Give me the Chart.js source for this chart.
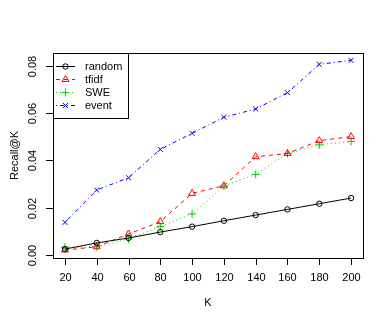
<!DOCTYPE html>
<html>
<head>
<meta charset="utf-8">
<script src="https://cdn.jsdelivr.net/npm/chart.js@4"></script>
<style>
  body { margin: 0; background: #fff; }
  canvas { display: block; }
</style>
</head>
<body>
<canvas id="chart" width="390" height="325"></canvas>
<script>
// values
const kValues = [20, 40, 60, 80, 100, 120, 140, 160, 180, 200];
const randomVals = [0.0025, 0.0051, 0.0072, 0.0097, 0.0120, 0.0145, 0.0169, 0.0193, 0.0217, 0.0241];
const tfidfVals  = [0.0021, 0.0035, 0.0089, 0.0141, 0.0261, 0.0293, 0.0416, 0.0430, 0.0484, 0.0501];
const sweVals    = [0.0033, 0.0034, 0.0068, 0.0120, 0.0174, 0.0292, 0.0341, 0.0430, 0.0466, 0.0481];
const eventVals  = [0.0138, 0.0275, 0.0327, 0.0447, 0.0515, 0.0583, 0.0618, 0.0687, 0.0807, 0.0824];
const xTicks = [20, 40, 60, 80, 100, 120, 140, 160, 180, 200];
const yTicks = [0, 0.02, 0.04, 0.06, 0.08];
const yTickLabels = ['0.00', '0.02', '0.04', '0.06', '0.08'];
const seriesNames = ['random', 'tfidf', 'SWE', 'event'];

const FONT = '11px "Liberation Sans", Arial, sans-serif';

const series = [
  { label: seriesNames[0], vals: randomVals, color: '#000000', dash: [],           style: 'circle',   r: 2.7 },
  { label: seriesNames[1], vals: tfidfVals,  color: '#FF0000', dash: [4, 4],       style: 'triangle', r: 4 },
  { label: seriesNames[2], vals: sweVals,    color: '#00CD00', dash: [1, 3],       style: 'cross',    r: 4 },
  { label: seriesNames[3], vals: eventVals,  color: '#0000FF', dash: [1, 3, 4, 3], style: 'crossRot', r: 3.5 }
];

const datasets = series.map(s => ({
  label: s.label,
  data: kValues.map((k, i) => ({ x: k, y: s.vals[i] })),
  borderColor: s.color,
  borderWidth: 1,
  borderDash: s.dash,
  pointStyle: s.style,
  pointRadius: s.r,
  pointBorderColor: s.color,
  pointBackgroundColor: 'rgba(0,0,0,0)',
  pointBorderWidth: 1,
  tension: 0,
  fill: false
}));

// R style frame, axes and legend
const rAxes = {
  id: 'rAxes',
  afterDraw(chart) {
    const ctx = chart.ctx;
    const a = chart.chartArea;
    const xs = chart.scales.x, ys = chart.scales.y;
    ctx.save();
    ctx.strokeStyle = '#000';
    ctx.lineWidth = 1;
    ctx.strokeRect(a.left + 0.5, a.top + 0.5, a.right - a.left, a.bottom - a.top);

    ctx.fillStyle = '#000';
    ctx.font = FONT;
    // x axis
    ctx.textAlign = 'center';
    ctx.textBaseline = 'middle';
    xTicks.forEach(t => {
      const px = Math.round(xs.getPixelForValue(t)) + 0.5;
      ctx.beginPath();
      ctx.moveTo(px, a.bottom);
      ctx.lineTo(px, a.bottom + 7);
      ctx.stroke();
      ctx.fillText(String(t), px, a.bottom + 20);
    });
    ctx.fillText('K', (a.left + a.right) / 2, a.bottom + 45);

    // y axis
    yTicks.forEach((t, i) => {
      const py = Math.round(ys.getPixelForValue(t)) + 0.5;
      ctx.beginPath();
      ctx.moveTo(a.left, py);
      ctx.lineTo(a.left - 7, py);
      ctx.stroke();
      ctx.save();
      ctx.translate(a.left - 20, py);
      ctx.rotate(-Math.PI / 2);
      ctx.fillText(yTickLabels[i], 0, 0);
      ctx.restore();
    });
    ctx.save();
    ctx.translate(15, (a.top + a.bottom) / 2);
    ctx.rotate(-Math.PI / 2);
    ctx.fillText('Recall@K', 0, 0);
    ctx.restore();

    // legend
    const lx = a.left, ly = a.top, lw = 75, lh = 65;
    ctx.fillStyle = '#fff';
    ctx.fillRect(lx, ly, lw, lh);
    ctx.strokeRect(lx + 0.5, ly + 0.5, lw, lh);
    series.forEach((s, i) => {
      const y = ly + 13 + i * 13 + 0.5;
      ctx.strokeStyle = s.color;
      ctx.setLineDash(s.dash);
      ctx.beginPath();
      ctx.moveTo(lx + 3, y);
      ctx.lineTo(lx + 22, y);
      ctx.stroke();
      ctx.setLineDash([]);
      ctx.fillStyle = 'rgba(0,0,0,0)';
      ctx.strokeStyle = s.color;
      Chart.helpers.drawPoint(ctx, { pointStyle: s.style, radius: s.r, borderWidth: 1 }, lx + 12.5, y);
      ctx.fillStyle = '#000';
      ctx.textAlign = 'left';
      ctx.fillText(s.label, lx + 32, y);
    });
    ctx.restore();
  }
};

new Chart(document.getElementById('chart'), {
  type: 'line',
  data: { datasets },
  options: {
    responsive: false,
    animation: false,
    layout: { padding: { left: 53, right: 27, top: 53, bottom: 67 } },
    plugins: { legend: { display: false }, tooltip: { enabled: false } },
    scales: {
      x: { type: 'linear', min: 12.5, max: 207.5, display: false },
      y: { type: 'linear', min: -0.00127, max: 0.0855, display: false }
    }
  },
  plugins: [rAxes]
});
</script>
</body>
</html>
